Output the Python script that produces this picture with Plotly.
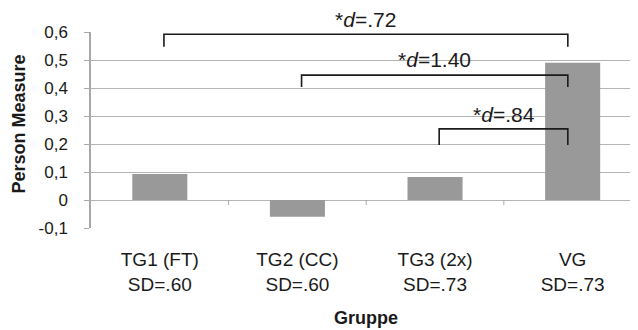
import plotly.graph_objects as go

categories = ["TG1 (FT)<br>SD=.60", "TG2 (CC)<br>SD=.60", "TG3 (2x)<br>SD=.73", "VG<br>SD=.73"]
values = [0.093, -0.06, 0.082, 0.49]
ytick_vals = [-0.1, 0, 0.1, 0.2, 0.3, 0.4, 0.5, 0.6]
ytick_text = ["-0,1", "0", "0,1", "0,2", "0,3", "0,4", "0,5", "0,6"]
y_min, y_max = -0.1, 0.6

# comparisons: (from index, to index, label, bracket top y, bracket bottom y, label y)
comparisons = [
    (0, 3, "*<i>d</i>=.72", 0.592, 0.547, 0.645),
    (1, 3, "*<i>d</i>=1.40", 0.446, 0.404, 0.50),
    (2, 3, "*<i>d</i>=.84", 0.254, 0.196, 0.305),
]

FONT = "Liberation Sans, Arial, sans-serif"
x = list(range(len(categories)))

fig = go.Figure()
fig.add_trace(go.Bar(x=x, y=values, marker=dict(color="#999999", line=dict(width=0)),
                     width=0.4, showlegend=False))

shapes = []
annotations = []
for (a, b, lab, ytop, ybot, ylab) in comparisons:
    x0 = a + 0.03
    x1 = b - 0.035
    shapes.append(dict(type="path", xref="x", yref="y",
                       path=f"M {x0},{ybot} L {x0},{ytop} L {x1},{ytop} L {x1},{ybot}",
                       line=dict(color="#1a1a1a", width=1.6)))
    annotations.append(dict(x=(x0 + x1) / 2, y=(ylab - y_min) / (y_max - y_min),
                            xref="x", yref="y domain", text=lab,
                            showarrow=False, font=dict(family=FONT, size=21, color="#1a1a1a"),
                            xanchor="center", yanchor="middle"))

# small tick marks on the zero line between categories
for i in range(len(categories) - 1):
    shapes.append(dict(type="line", xref="x", yref="y", x0=i + 0.5, x1=i + 0.5, y0=0, y1=-0.018,
                       line=dict(color="#AAAAAA", width=1)))

annotations.append(dict(text="<b>Person Measure</b>", xref="paper", yref="paper", x=-0.1315, y=0.528,
                        xanchor="center", yanchor="middle",
                        textangle=-90, showarrow=False, font=dict(family=FONT, size=18, color="#1a1a1a")))
annotations.append(dict(text="<b>Gruppe</b>", xref="paper", yref="paper", x=0.4955, y=-0.459,
                        xanchor="center", yanchor="middle",
                        showarrow=False, font=dict(family=FONT, size=18, color="#1a1a1a")))

fig.update_layout(
    width=638, height=330,
    margin=dict(l=83, r=0, t=24, b=110),
    paper_bgcolor="white", plot_bgcolor="white",
    font=dict(family=FONT, size=17, color="#1a1a1a"),
    shapes=shapes, annotations=annotations,
    xaxis=dict(tickvals=x, ticktext=categories, range=[-0.5, 3.533], showgrid=False,
               ticks="", showline=False, zeroline=False, ticklabelstandoff=18,
               tickfont=dict(size=19), automargin=False),
    yaxis=dict(range=[y_min, y_max], tickvals=ytick_vals, ticktext=ytick_text,
               showgrid=True, gridcolor="#B4B4B4", gridwidth=1,
               zeroline=True, zerolinecolor="#B4B4B4", zerolinewidth=1,
               showline=True, linecolor="#A8A8A8", linewidth=1.5,
               ticks="outside", ticklen=5, tickcolor="#A8A8A8",
               ticklabelstandoff=13, tickfont=dict(size=17), automargin=False),
    bargap=0.6,
)

fig.write_html("out.html")
